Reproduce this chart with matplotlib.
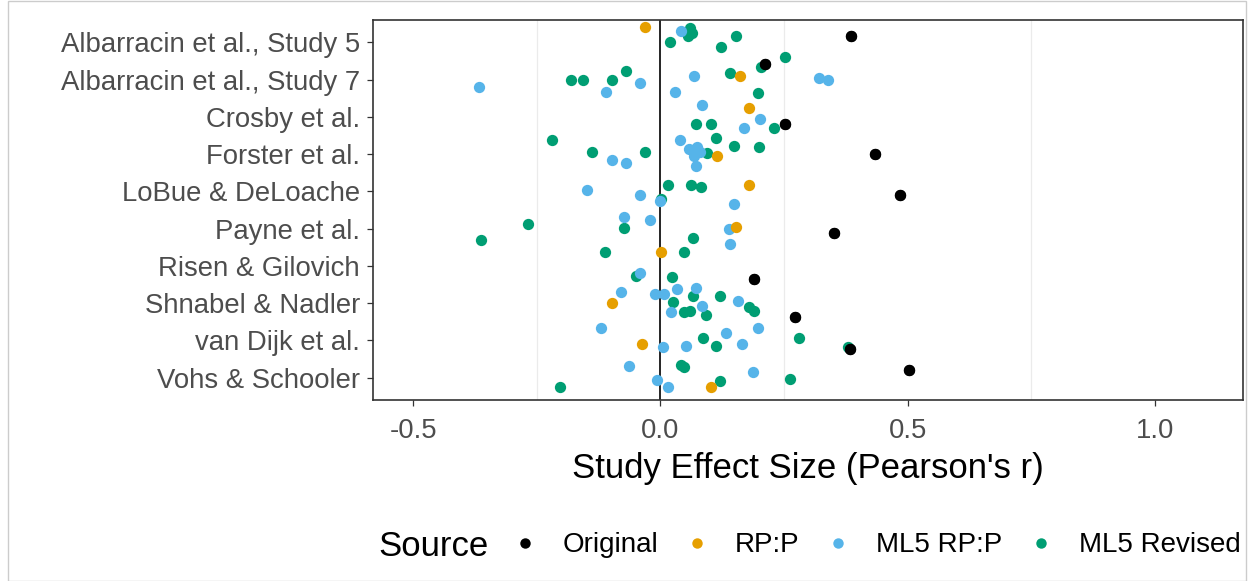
import matplotlib
matplotlib.use("Agg")
import matplotlib.pyplot as plt
from matplotlib.lines import Line2D
from matplotlib.patches import Rectangle
import numpy as np

plt.rcParams['font.family'] = ['Liberation Sans', 'DejaVu Sans']

studies = ["Albarracin et al., Study 5", "Albarracin et al., Study 7", "Crosby et al.",
           "Forster et al.", "LoBue & DeLoache", "Payne et al.", "Risen & Gilovich",
           "Shnabel & Nadler", "van Dijk et al.", "Vohs & Schooler"]

# effect sizes per source: study index, r, vertical jitter (row units, + = down)
orig_idx = [0, 1, 2, 3, 4, 5, 6, 7, 8, 9]
orig_r = [0.385, 0.212, 0.252, 0.434, 0.484, 0.351, 0.190, 0.272, 0.383, 0.502]
orig_jit = [-0.16, -0.41, 0.20, 0.01, 0.11, 0.11, 0.34, 0.37, 0.23, -0.21]

rpp_idx = [0, 1, 2, 3, 4, 5, 6, 7, 8, 9]
rpp_r = [-0.031, 0.162, 0.179, 0.115, 0.179, 0.152, 0.001, -0.098, -0.038, 0.102]
rpp_jit = [-0.40, -0.11, -0.23, 0.06, -0.18, -0.05, -0.38, -0.01, 0.09, 0.25]

ml5_idx = [0,
           1, 1, 1, 1, 1, 1, 1,
           2, 2, 2,
           3, 3, 3, 3, 3, 3, 3, 3,
           4, 4, 4, 4,
           5, 5, 5, 5,
           6,
           7, 7, 7, 7, 7, 7, 7, 7,
           8, 8, 8, 8, 8, 8,
           9, 9, 9, 9]
ml5_r = [0.041,
         0.069, 0.320, 0.338, -0.367, -0.041, -0.109, 0.030,
         0.084, 0.201, 0.169,
         -0.098, -0.070, 0.040, 0.057, 0.074, 0.067, 0.073, 0.081,
         -0.149, -0.041, -0.001, 0.148,
         -0.073, -0.020, 0.138, 0.140,
         -0.041,
         -0.080, -0.010, 0.007, 0.034, 0.073, 0.085, 0.022, 0.156,
         -0.120, 0.198, 0.133, 0.051, 0.005, 0.166,
         -0.063, 0.187, -0.006, 0.016]
ml5_jit = [-0.30,
           -0.11, -0.03, 0.02, 0.21, 0.08, 0.32, 0.32,
           -0.33, 0.07, 0.31,
           0.17, 0.25, -0.37, -0.15, -0.20, 0.04, 0.31, -0.07,
           -0.05, 0.11, 0.27, 0.35,
           -0.32, -0.24, 0.00, 0.40,
           0.18,
           -0.31, -0.25, -0.25, -0.39, -0.41, 0.07, 0.23, -0.06,
           -0.34, -0.34, -0.20, 0.15, 0.17, 0.09,
           -0.32, -0.16, 0.06, 0.25]

rev_idx = [0, 0, 0, 0, 0, 0, 0,
           1, 1, 1, 1, 1, 1, 1,
           2, 2, 2,
           3, 3, 3, 3, 3, 3, 3,
           4, 4, 4, 4,
           5, 5, 5, 5,
           6, 6, 6, 6,
           7, 7, 7, 7, 7, 7, 7, 7,
           8, 8, 8, 8,
           9, 9, 9, 9, 9]
rev_r = [0.060, 0.056, 0.064, 0.019, 0.152, 0.122, 0.252,
         0.203, 0.140, -0.181, -0.156, -0.098, -0.070, 0.198,
         0.073, 0.102, 0.230,
         -0.220, -0.139, -0.031, 0.112, 0.149, 0.200, 0.094,
         0.016, 0.061, 0.082, 0.001,
         -0.267, -0.363, -0.073, 0.066,
         -0.112, 0.048, -0.050, 0.023,
         0.066, 0.120, 0.026, 0.047, 0.059, 0.093, 0.179, 0.189,
         0.087, 0.112, 0.280, 0.380,
         0.041, 0.048, 0.262, 0.120, -0.202]
rev_jit = [-0.38, -0.16, -0.24, 0.00, -0.16, 0.13, 0.40,
           -0.35, -0.17, 0.02, 0.02, 0.02, -0.22, 0.37,
           0.18, 0.18, 0.31,
           -0.37, -0.07, -0.07, -0.42, -0.23, -0.18, -0.02,
           -0.18, -0.18, -0.13, 0.21,
           -0.13, 0.30, -0.03, 0.24,
           -0.38, -0.38, 0.26, 0.29,
           -0.20, -0.20, -0.04, 0.23, 0.20, 0.31, 0.10, 0.20,
           -0.07, 0.15, -0.07, 0.17,
           -0.34, -0.29, 0.03, 0.09, 0.25]

sources = ["Original", "RP:P", "ML5 RP:P", "ML5 Revised"]
colors = ["#000000", "#E69F00", "#56B4E9", "#009E73"]

W, H = 1248, 581
fig = plt.figure(figsize=(W / 100, H / 100), dpi=100)
ax = fig.add_axes([373 / W, 1 - 400 / H, 870 / W, 380 / H])

n = len(studies)
series = [(orig_idx, orig_r, orig_jit), (rpp_idx, rpp_r, rpp_jit),
          (ml5_idx, ml5_r, ml5_jit), (rev_idx, rev_r, rev_jit)]
for (idx, r, jit), col in zip(series[::-1], colors[::-1]):
    y = (n - np.array(idx)) - np.array(jit)
    ax.scatter(r, y, s=66, color=col, linewidths=0, zorder=3)
# original drawn last, on top
y0 = (n - np.array(orig_idx)) - np.array(orig_jit)
ax.scatter(orig_r, y0, s=66, color=colors[0], linewidths=0, zorder=4)

ax.axvline(0, color="black", lw=1.2, zorder=2)
for g in [-0.25, 0.25, 0.75]:
    ax.axvline(g, color="#EBEBEB", lw=0.9, zorder=1)

ax.set_xlim(-0.581, 1.178)
ax.set_ylim(0.4, n + 0.6)
ax.set_yticks(np.arange(n, 0, -1))
ax.set_yticklabels(studies)
ax.set_xticks([-0.5, 0.0, 0.5, 1.0])
ax.set_xticklabels(["-0.5", "0.0", "0.5", "1.0"])
ax.tick_params(axis="both", labelsize=19.8, labelcolor="#4D4D4D", color="#333333",
               length=4, width=0.9)
ax.tick_params(axis="y", pad=5.5)
ax.tick_params(axis="x", pad=9)
for s in ax.spines.values():
    s.set_color("#333333")
    s.set_linewidth(1.2)

ax.set_xlabel("Study Effect Size (Pearson's r)", fontsize=25, labelpad=6)

# legend along the bottom
leg_y = 1 - 545 / H
fig.text(378 / W, 1 - 546 / H, "Source", fontsize=25, va="center", ha="left")
dot_x = [525, 697, 838, 1041]
for px, lab, col in zip(dot_x, sources, colors):
    fig.add_artist(Line2D([px / W], [1 - 543 / H], marker="o", ls="", color=col,
                          markersize=7.5, markeredgewidth=0, transform=fig.transFigure))
    fig.text((px + 38) / W, leg_y, lab, fontsize=20, va="center", ha="left")

fig.add_artist(Rectangle((8 / W, 0), 1238 / W, 0.998, transform=fig.transFigure,
                         fill=False, edgecolor="#CCCCCC", lw=1))

fig.savefig("out.png", dpi=100)
